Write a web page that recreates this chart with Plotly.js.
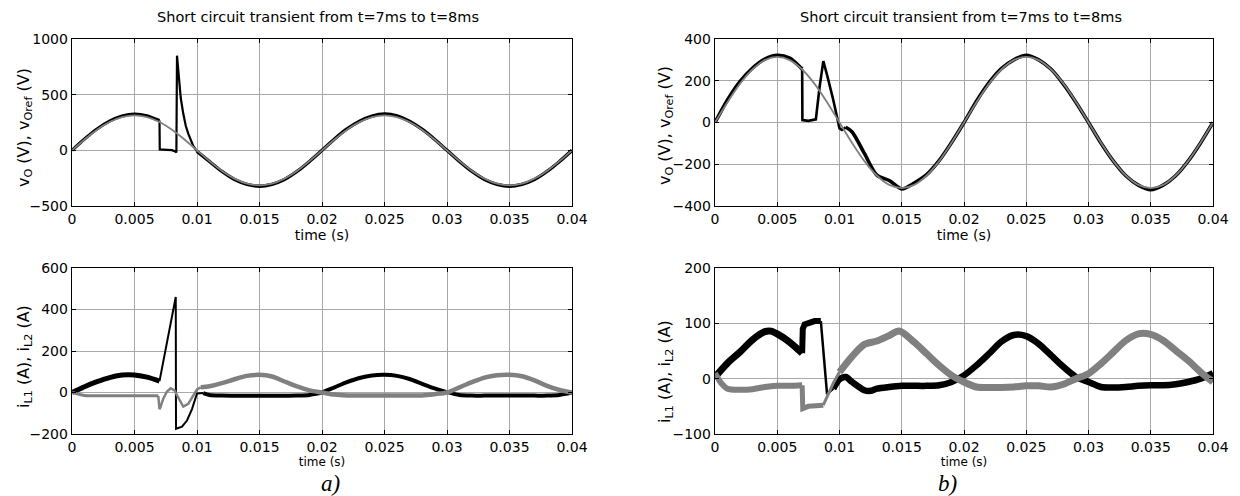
<!DOCTYPE html>
<html>
<head>
<meta charset="utf-8">
<script src="https://cdn.plot.ly/plotly-3.0.1.min.js"></script>
<style>html,body{margin:0;padding:0;background:#fff;}#chart{width:1240px;height:496px;}</style>
</head>
<body>
<div id="chart"></div>
<script>
// ---------- Data ----------
const xTickVals = [0,0.005,0.01,0.015,0.02,0.025,0.03,0.035,0.04];
const xTickText = ["0","0.005","0.01","0.015","0.02","0.025","0.03","0.035","0.04"];
const chartTitle = "Short circuit transient from t=7ms to t=8ms";
const xTitle = "time (s)";
const vTitle = 'v<sub>O</sub> (V), v<sub>Oref</sub> (V)';
const iTitle = 'i<sub>L1</sub> (A), i<sub>L2</sub> (A)';
const panelLabels = ["a)", "b)"];

// reference voltage (gray), both panels
const tRef = [0,0.001,0.002,0.003,0.004,0.005,0.006,0.007,0.008,0.009,0.010,0.011,0.012,0.013,0.014,0.015,0.016,0.017,0.018,0.019,0.020,0.021,0.022,0.023,0.024,0.025,0.026,0.027,0.028,0.029,0.030,0.031,0.032,0.033,0.034,0.035,0.036,0.037,0.038,0.039,0.040];
const vOrefA = [0,97,185,254,299,314,299,254,185,97,0,-97,-185,-254,-299,-314,-299,-254,-185,-97,0,97,185,254,299,314,299,254,185,97,0,-97,-185,-254,-299,-314,-299,-254,-185,-97,0];
const vOrefB = [0,97,185,254,299,314,299,254,185,97,0,-97,-185,-254,-299,-314,-299,-254,-185,-97,0,97,185,254,299,314,299,254,185,97,0,-97,-185,-254,-299,-314,-299,-254,-185,-97,0];

// panel a) output voltage (black)
const tVoA = [0,0.001,0.002,0.003,0.004,0.005,0.006,0.0069,0.0070,0.00702,0.0076,0.0080,0.0083,0.00835,0.0084,0.0085,0.0087,0.0089,0.0091,0.0093,0.0095,0.0097,0.0100,0.011,0.012,0.013,0.014,0.015,0.016,0.017,0.018,0.019,0.020,0.021,0.022,0.023,0.024,0.025,0.026,0.027,0.028,0.029,0.030,0.031,0.032,0.033,0.034,0.035,0.036,0.037,0.038,0.039,0.040];
const vOA = [0,102,192,262,308,326,310,272,268,8,5,2,-12,-20,850,700,470,330,220,150,95,40,-10,-100,-190,-262,-305,-322,-305,-262,-190,-100,0,102,192,262,308,326,310,262,190,100,0,-100,-190,-262,-305,-322,-305,-262,-190,-100,0];

// panel a) inductor currents
const tIL1A = [0,0.001,0.002,0.003,0.004,0.0045,0.005,0.006,0.007,0.0083,0.00832,0.0088,0.0092,0.0096,0.0100,0.0105,0.011,0.012,0.013,0.014,0.015,0.016,0.017,0.018,0.019,0.0195,0.020,0.021,0.022,0.023,0.024,0.025,0.026,0.027,0.028,0.029,0.030,0.031,0.032,0.033,0.034,0.035,0.036,0.037,0.038,0.039,0.040];
const iL1A = [0,28,52,72,84,86,84,74,55,460,-175,-165,-135,-80,-5,-3,-12,-15,-16,-16,-16,-16,-16,-15,-12,-6,0,25,50,70,82,85,80,65,42,20,2,-12,-15,-15,-15,-15,-15,-15,-15,-12,0];
const tIL2A = [0,0.0005,0.001,0.002,0.003,0.004,0.005,0.006,0.0069,0.0070,0.00705,0.0073,0.0076,0.0079,0.0082,0.0086,0.0089,0.0093,0.0097,0.0100,0.0103,0.011,0.012,0.013,0.014,0.015,0.016,0.017,0.018,0.019,0.020,0.021,0.022,0.023,0.024,0.025,0.026,0.027,0.028,0.029,0.030,0.031,0.032,0.033,0.034,0.035,0.036,0.037,0.038,0.039,0.040];
const iL2A = [0,-8,-14,-16,-16,-16,-16,-16,-16,-80,-75,-30,5,20,10,-35,-68,-55,-15,15,25,30,45,64,80,85,77,53,29,10,0,-10,-14,-15,-15,-15,-15,-15,-14,-8,0,25,50,72,83,85,78,58,32,12,0];

// panel b) output voltage (black)
const tVoB = [0,0.001,0.002,0.003,0.004,0.005,0.006,0.0069,0.0070,0.00702,0.0075,0.0080,0.0081,0.0084,0.0087,0.0090,0.0095,0.0100,0.0102,0.0105,0.011,0.012,0.013,0.014,0.015,0.016,0.017,0.018,0.019,0.020,0.021,0.022,0.023,0.024,0.025,0.026,0.027,0.028,0.029,0.030,0.031,0.032,0.033,0.034,0.035,0.036,0.037,0.038,0.039,0.040];
const vOB = [0,108,196,260,304,322,308,262,256,12,8,12,15,170,294,228,108,-28,-36,-23,-44,-148,-252,-278,-318,-290,-250,-183,-96,0,102,190,258,300,322,300,255,183,96,0,-98,-185,-255,-300,-322,-300,-255,-185,-98,0];

// panel b) inductor currents
const tIL1B = [0,0.001,0.002,0.003,0.004,0.0045,0.005,0.006,0.0070,0.00705,0.0072,0.0076,0.0080,0.0085,0.0090,0.0095,0.0100,0.0105,0.011,0.012,0.0125,0.013,0.014,0.015,0.016,0.017,0.018,0.019,0.020,0.021,0.022,0.023,0.024,0.025,0.026,0.027,0.028,0.029,0.030,0.031,0.032,0.033,0.034,0.035,0.036,0.037,0.038,0.039,0.040];
const iL1B = [3,28,48,70,85,86,81,66,46,90,98,102,104,104,-28,-18,-1,3,-6,-21,-22,-18,-15,-13,-13,-13,-12,-6,6,24,45,67,79,77,63,42,21,3,-6,-15,-16,-15,-13,-12,-12,-10,-6,0,10];
const tIL2B = [0,0.0005,0.001,0.002,0.003,0.004,0.005,0.006,0.0070,0.00705,0.0075,0.0080,0.0087,0.0090,0.0095,0.0100,0.011,0.012,0.013,0.014,0.0148,0.016,0.017,0.018,0.019,0.020,0.021,0.022,0.023,0.024,0.025,0.026,0.027,0.028,0.029,0.030,0.031,0.032,0.033,0.034,0.035,0.036,0.037,0.038,0.039,0.040];
const iL2B = [10,-8,-18,-20,-19,-15,-13,-13,-12,-54,-50,-50,-48,-33,-8,12,40,62,68,78,86,66,45,24,6,-6,-15,-16,-16,-15,-13,-13,-15,-10,0,9,27,48,69,81,80,69,51,33,12,-6];

// ---------- helpers ----------
function seg(t, y, t0, t1) {
  const xs = [], ys = [];
  for (let i = 0; i < t.length; i++) {
    if (t[i] >= t0 - 1e-9 && t[i] <= t1 + 1e-9) { xs.push(t[i]); ys.push(y[i]); }
  }
  return {x: xs, y: ys};
}
function line(d, color, width, xa, ya, shape) {
  return {x: d.x, y: d.y, type: 'scatter', mode: 'lines', xaxis: xa, yaxis: ya,
          line: {color: color, width: width, shape: shape || 'linear', smoothing: 0.8},
          hoverinfo: 'skip', showlegend: false};
}
const BLK = '#000000', GRY = '#808080', SP = 'spline';

const traces = [
  // a) top
  line(seg(tVoA, vOA, 0, 0.0070), BLK, 3.2, 'x', 'y', SP),
  line(seg(tVoA, vOA, 0.0070, 0.0100), BLK, 2.2, 'x', 'y'),
  line(seg(tVoA, vOA, 0.0100, 0.04), BLK, 3.4, 'x', 'y', SP),
  line({x: tRef, y: vOrefA}, GRY, 1.8, 'x', 'y', SP),
  // a) bottom
  line(seg(tIL1A, iL1A, 0, 0.007), BLK, 5, 'x2', 'y2', SP),
  line(seg(tIL1A, iL1A, 0.007, 0.0105), BLK, 2, 'x2', 'y2'),
  line(seg(tIL1A, iL1A, 0.0105, 0.04), BLK, 4, 'x2', 'y2', SP),
  line(seg(tIL2A, iL2A, 0, 0.0069), GRY, 3, 'x2', 'y2', SP),
  line(seg(tIL2A, iL2A, 0.0069, 0.0103), GRY, 2.5, 'x2', 'y2'),
  line(seg(tIL2A, iL2A, 0.0103, 0.04), GRY, 4.5, 'x2', 'y2', SP),
  // b) top
  line(seg(tVoB, vOB, 0, 0.0070), BLK, 3.6, 'x3', 'y3', SP),
  line(seg(tVoB, vOB, 0.0070, 0.0105), BLK, 2.6, 'x3', 'y3'),
  line(seg(tVoB, vOB, 0.0105, 0.04), BLK, 3.6, 'x3', 'y3', SP),
  line({x: tRef, y: vOrefB}, GRY, 1.8, 'x3', 'y3', SP),
  // b) bottom
  line(seg(tIL1B, iL1B, 0, 0.007), BLK, 7, 'x4', 'y4', SP),
  line(seg(tIL1B, iL1B, 0.007, 0.0085), BLK, 6, 'x4', 'y4'),
  line(seg(tIL1B, iL1B, 0.0085, 0.0095), BLK, 2.5, 'x4', 'y4'),
  line(seg(tIL1B, iL1B, 0.0095, 0.04), BLK, 6.5, 'x4', 'y4', SP),
  line(seg(tIL2B, iL2B, 0, 0.0070), GRY, 6, 'x4', 'y4', SP),
  line(seg(tIL2B, iL2B, 0.0070, 0.0087), GRY, 5, 'x4', 'y4'),
  line(seg(tIL2B, iL2B, 0.0087, 0.0100), GRY, 3, 'x4', 'y4'),
  line(seg(tIL2B, iL2B, 0.0100, 0.04), GRY, 7, 'x4', 'y4', SP)
];

const FONT = 'DejaVu Sans, Arial, sans-serif';
function xax(domain, anchor, tsize, standoff) {
  return {domain: domain, anchor: anchor, range: [0, 0.04], tickvals: xTickVals, ticktext: xTickText,
    showgrid: true, gridcolor: '#a8a8a8', gridwidth: 1, zeroline: false,
    showline: true, linecolor: '#000', linewidth: 1.3, mirror: 'ticks', ticks: 'inside', ticklen: 4, tickcolor: '#000',
    tickfont: {family: FONT, size: 14, color: '#000'}, automargin: false,
    title: {text: xTitle, font: {family: FONT, size: tsize, color: '#000'}, standoff: standoff}};
}
function yax(domain, anchor, range, dtick) {
  return {domain: domain, anchor: anchor, range: range, dtick: dtick, tick0: 0,
    showgrid: true, gridcolor: '#a8a8a8', gridwidth: 1, zeroline: false,
    showline: true, linecolor: '#000', linewidth: 1.3, mirror: 'ticks', ticks: 'inside', ticklen: 4, tickcolor: '#000',
    tickfont: {family: FONT, size: 14, color: '#000'}, automargin: false};
}
const dxL = [72/1240, 572/1240], dxR = [715/1240, 1213/1240];
const dyT = [1 - 206/496, 1 - 39/496], dyB = [1 - 434/496, 1 - 268/496];
function px(x) { return x / 1240; }
function py(y) { return 1 - y / 496; }
function ytitle(text, x, y) {
  return {text: text, xref: 'paper', yref: 'paper', x: px(x), y: py(y), textangle: -90, showarrow: false,
          font: {family: FONT, size: 16, color: '#000'}, xanchor: 'center', yanchor: 'middle'};
}
function plabel(text, x) {
  return {text: '<i>' + text + '</i>', xref: 'paper', yref: 'paper', x: px(x), y: 0, showarrow: false,
          font: {family: 'Liberation Serif, Times New Roman, serif', size: 23, color: '#000'},
          xanchor: 'center', yanchor: 'bottom', yshift: -2};
}

const layout = {
  width: 1240, height: 496, margin: {l: 0, r: 0, t: 0, b: 0},
  paper_bgcolor: '#fff', plot_bgcolor: '#fff', showlegend: false,
  xaxis: xax(dxL, 'y', 14, 4),
  yaxis: yax(dyT, 'x', [-500, 1000], 500),
  xaxis2: xax(dxL, 'y2', 12, 0),
  yaxis2: yax(dyB, 'x2', [-200, 600], 200),
  xaxis3: xax(dxR, 'y3', 14, 4),
  yaxis3: yax(dyT, 'x3', [-400, 400], 200),
  xaxis4: xax(dxR, 'y4', 12, 0),
  yaxis4: yax(dyB, 'x4', [-100, 200], 100),
  annotations: [
    {text: chartTitle, xref: 'paper', yref: 'paper', x: px(318), y: py(17), showarrow: false,
     font: {family: FONT, size: 14.5, color: '#000'}, xanchor: 'center', yanchor: 'middle'},
    {text: chartTitle, xref: 'paper', yref: 'paper', x: px(961), y: py(17), showarrow: false,
     font: {family: FONT, size: 14.5, color: '#000'}, xanchor: 'center', yanchor: 'middle'},
    ytitle(vTitle, 24, 128),
    ytitle(iTitle, 24, 357),
    ytitle(vTitle, 665, 126),
    ytitle(iTitle, 665, 372),
    plabel(panelLabels[0], 331),
    plabel(panelLabels[1], 947)
  ]
};

Plotly.newPlot('chart', traces, layout, {staticPlot: true, displayModeBar: false});
</script>
</body>
</html>
